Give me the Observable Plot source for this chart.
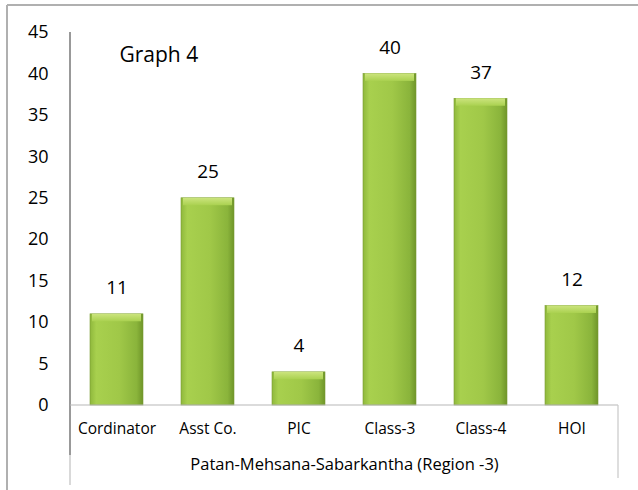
<!DOCTYPE html>
<html>
<head>
<meta charset="utf-8">
<script src="https://cdn.jsdelivr.net/npm/d3@7"></script>
<script src="https://cdn.jsdelivr.net/npm/@observablehq/plot@0.6"></script>
<style>
  html, body { margin: 0; padding: 0; background: #fff; }
  #chart svg { display: block; }
</style>
</head>
<body>
<div id="chart"></div>
<script>
const categories = ["Cordinator", "Asst Co.", "PIC", "Class-3", "Class-4", "HOI"];
const values = [11, 25, 4, 40, 37, 12];
const yTicks = [0, 5, 10, 15, 20, 25, 30, 35, 40, 45];
const chartTitle = "Graph 4";
const axisTitle = "Patan-Mehsana-Sabarkantha (Region -3)";

const data = categories.map((c, i) => ({ cat: c, v: values[i] }));

const defs = () => {
  const ns = "http://www.w3.org/2000/svg";
  const d = document.createElementNS(ns, "defs");
  d.innerHTML = `
    <linearGradient id="barGrad" x1="0" x2="1" y1="0" y2="0">
      <stop offset="0" stop-color="#8fb83c"/>
      <stop offset="0.12" stop-color="#a8d04e"/>
      <stop offset="0.55" stop-color="#a0c848"/>
      <stop offset="0.88" stop-color="#8ab43b"/>
      <stop offset="1" stop-color="#6f9529"/>
    </linearGradient>
    <linearGradient id="capGrad" x1="0" x2="0" y1="0" y2="1">
      <stop offset="0" stop-color="#cce47e"/>
      <stop offset="1" stop-color="#aad150"/>
    </linearGradient>`;
  return d;
};

const frameLines = (index, scales, values, dims) => {
  const ns = "http://www.w3.org/2000/svg";
  const g = document.createElementNS(ns, "g");
  const x0 = dims.marginLeft, x1 = dims.width - dims.marginRight;
  const yb = dims.height - dims.marginBottom;
  const lines = [
    [7, 5, 638, 5, "#b0b0b0", 2],
    [7, 5, 7, 490, "#b0b0b0", 2],
    [x0, dims.marginTop, x0, 455, "#555", 1.2],
    [x0, 455, x0, 485, "#c0c0c0", 1.2],
    [x0, yb, x1, yb, "#b8b8b8", 1.2],
    [x1, yb, x1, 478, "#c8c8c8", 1.2]
  ];
  for (const [a, b, c, e, s, w] of lines) {
    const l = document.createElementNS(ns, "line");
    l.setAttribute("x1", a); l.setAttribute("y1", b);
    l.setAttribute("x2", c); l.setAttribute("y2", e);
    l.setAttribute("stroke", s); l.setAttribute("stroke-width", w);
    g.appendChild(l);
  }
  return g;
};

const plot = Plot.plot({
  width: 638,
  height: 490,
  marginLeft: 70,
  marginRight: 20,
  marginTop: 32,
  marginBottom: 85,
  style: { fontFamily: "'Open Sans', Lato, sans-serif", background: "#fff", color: "#000" },
  x: { domain: categories, paddingInner: 0.42, paddingOuter: 0.21, label: null },
  y: { domain: [0, 45], label: null },
  marks: [
    defs,
    Plot.barY(data, { x: "cat", y: "v", fill: "url(#barGrad)", stroke: "#7a9c32", strokeWidth: 0.6 }),
    Plot.barY(data, { x: "cat", y1: d => Math.max(0, d.v - 0.9), y2: "v", fill: "url(#capGrad)", insetLeft: 2, insetRight: 2 }),
    frameLines,
    Plot.axisY({ ticks: yTicks, tickSize: 0, tickPadding: 22, fontSize: 18, tickFormat: d => d }),
    Plot.axisX({ tickSize: 0, tickPadding: 17, fontSize: 15.5, label: null }),
    Plot.text(data, { x: "cat", y: "v", text: d => String(d.v), dy: -26, fontSize: 19 }),
    Plot.text([axisTitle], { frameAnchor: "bottom", dy: 64, fontSize: 16.5 }),
    Plot.text([chartTitle], { frameAnchor: "top-left", dx: 49, dy: 15, fontSize: 21, textAnchor: "start" })
  ]
});

document.getElementById("chart").appendChild(plot);
</script>
</body>
</html>
